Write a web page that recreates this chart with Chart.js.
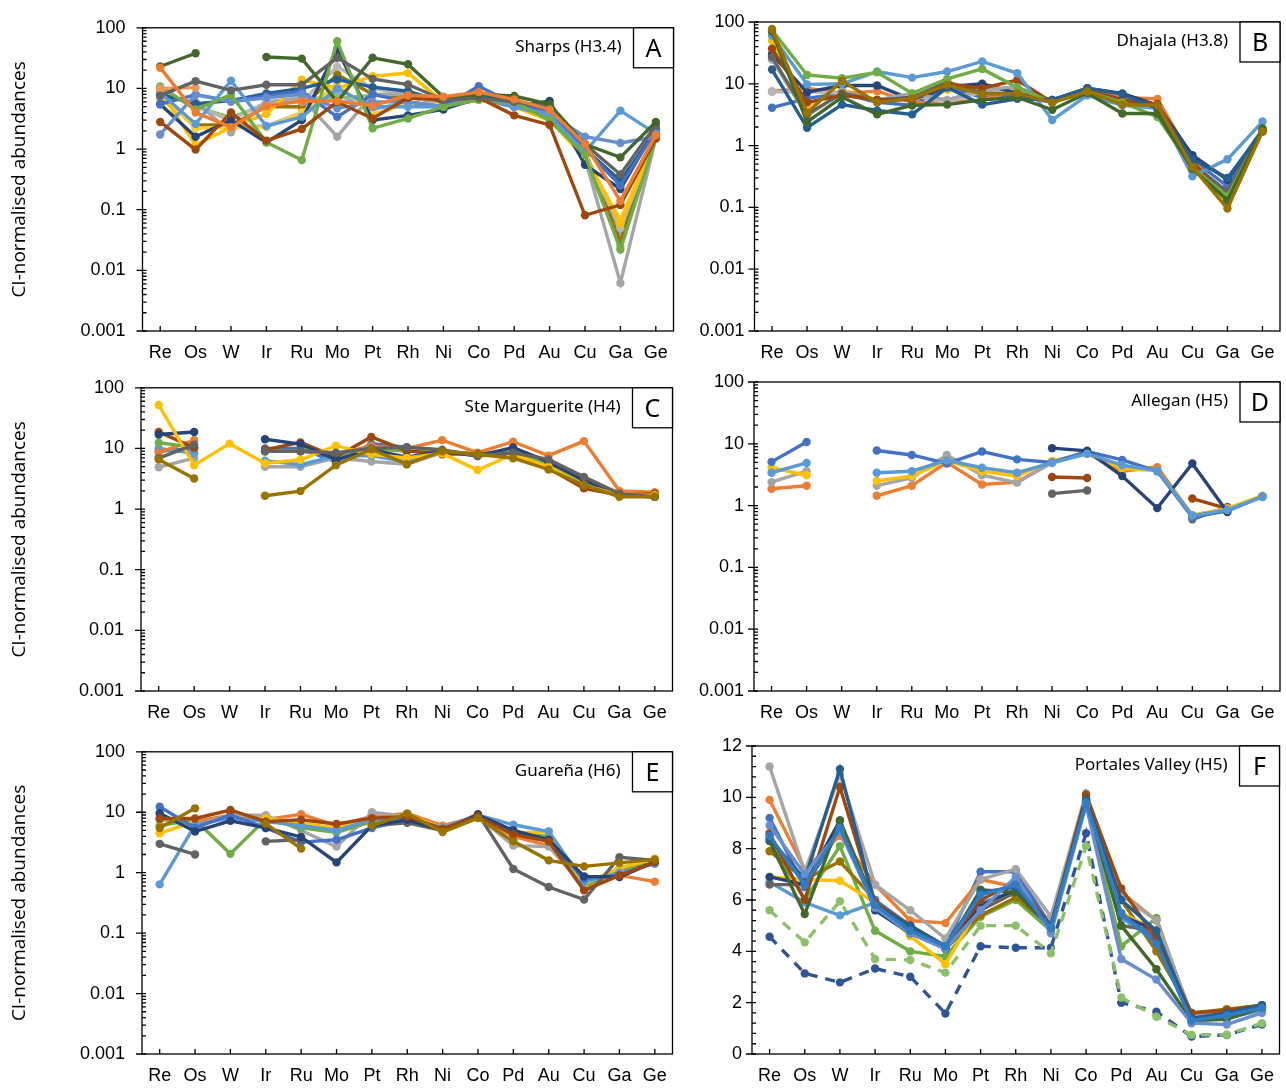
<!DOCTYPE html>
<html>
<head>
<meta charset="utf-8">
<script src="https://cdn.jsdelivr.net/npm/chart.js@4.4.1/dist/chart.umd.min.js"></script>
<style>
  body { margin: 0; background: #fff; }
  #wrap { position: relative; width: 1286px; height: 1088px; overflow: hidden; }
  #wrap canvas { position: absolute; }
</style>
</head>
<body>
<div id="wrap"></div>
<script>
// element order along the x axis
const elements = ['Re', 'Os', 'W', 'Ir', 'Ru', 'Mo', 'Pt', 'Rh', 'Ni', 'Co', 'Pd', 'Au', 'Cu', 'Ga', 'Ge'];
const logTicks = [0.001, 0.01, 0.1, 1, 10, 100];
const linTicks = [0, 2, 4, 6, 8, 10, 12];

// Sharps (H3.4)
const sharps1 = [23, 38, null, 33, 31, 6, 32, 25, 7.2, 8, 7.5, 5.5, 1.2, 0.73, 2.8];
const sharps2 = [7.6, 13.2, 9.3, 11.5, 11.5, 32, 14.4, 11.6, 6.5, 7, 6, 5, 1.2, 0.38, 2.5];
const sharps3 = [10, 10.3, null, null, null, null, null, null, null, null, null, null, null, null, null];
const sharps4 = [2.8, 0.98, 4.0, 1.38, 2.15, 6, 3.2, 7, 6.5, 7, 3.6, 2.5, 0.081, 0.12, 1.5];
const sharps5 = [10.8, 4.5, 7.9, 1.3, 0.66, 60, 2.2, 3.2, 5, 6.5, 6, 3, 0.8, 0.022, 1.5];
const sharps6 = [8.5, 2.6, 13.4, 2.4, 3.4, 10, 5, 5, 5, 7, 5, 3.5, 0.9, 4.3, 1.8];
const sharps7 = [1.74, 7.9, 6, 7, 8, 4.7, 6, 6, 5, 7, 5, 3.8, 1.6, 1.26, 1.6];
const sharps8 = [5.5, 7.9, 6.2, 7.5, 9, 3.4, 8, 6, 5, 10.9, 5.5, 4, 1, 0.25, 2];
const sharps9 = [5.5, 1.6, 3, 1.29, 3, 44, 3, 3.6, 4.5, 7, 5, 6.2, 0.55, 0.22, 2.2];
const sharps10 = [8, 5.6, 6.3, 8.3, 10, 14, 10.5, 9, 6, 8, 6, 4, 1, 0.3, 2];
const sharps11 = [9, 1.17, 2.3, 3.8, 14, 10, 15.9, 17.9, 6, 7, 5, 3, 0.8, 0.06, 1.5];
const sharps12 = [8, 2.2, 2.3, 2.3, 4, 11.7, 3.8, 5.5, 5.5, 6.5, 5, 3, 0.7, 0.07, 1.5];
const sharps13 = [7, 6, 1.9, 6, 7, 1.6, 8, 8, 5, 6.5, 5.5, 5.5, 0.7, 0.0062, 1.5];
const sharps14 = [9, 5, 3, 6, 6, 23, 10, 8, 5, 6.5, 5, 4, 0.8, 0.05, 1.5];
const sharps15 = [7, 2.5, 2.5, 5, 5, 17, 8, 7, 6, 7, 6, 4, 0.9, 0.03, 1.5];
const sharps16 = [9, 5, 3.3, 5.5, 7, 7, 7.7, 8.5, 5.5, 6.5, 6, 3.5, 0.7, 0.025, 1.5];
const sharps17 = [9, 2.3, 2.3, 2.4, 4, 8, 4.5, 6, 5, 6.5, 5, 3.5, 0.9, 0.045, 1.5];
const sharps18 = [22, 4.0, 2.3, 5.1, 6.2, 6.2, 5.2, 7.7, 7.3, 8.7, 6.6, 4.5, 1.2, 0.14, 1.7];

// Dhajala (H3.8)
const dhajala1 = [74, 13.9, 12.3, 15.4, 7, 12, 17.4, 8.7, 5, 7.5, 5, 2.9, 0.45, 0.15, 1.8];
const dhajala2 = [60, 9.8, 10, 15.8, 12.6, 15.8, 23, 14.8, 2.6, 6.5, 4.5, 4, 0.32, 0.6, 2.45];
const dhajala3 = [77, 3.4, 11.2, 5.0, 5.8, 9.6, 6.8, 7, 5, 7.5, 4.6, 4.5, 0.45, 0.096, 1.7];
const dhajala4 = [37, 5, 6.5, 5.5, 5.5, 10, 8.5, 11.5, 5, 8, 5.5, 4.7, 0.55, 0.13, 1.7];
const dhajala5 = [27, 3.2, 7, 5.5, 6, 10.8, 7, 7, 5, 8, 5.5, 4, 0.5, 0.18, 1.8];
const dhajala6 = [24.6, 3, 7.5, 5.5, 7, 5.5, 8, 9, 5, 8, 5.5, 4, 0.5, 0.15, 1.7];
const dhajala7 = [17, 1.95, 4.6, 3.7, 3.2, 8.7, 4.6, 5.7, 5.5, 8.5, 6.8, 4, 0.6, 0.3, 1.7];
const dhajala8 = [30, 7.3, 9.4, 9.4, 5.5, 9, 10, 7, 5.5, 8.5, 7, 4.5, 0.7, 0.28, 1.8];
const dhajala9 = [7.4, 7.5, 7, 5.5, 6.5, 5, 7.5, 8.5, 5, 7.5, 5.5, 4, 0.5, 0.15, 1.7];
const dhajala10 = [7.5, 8.5, 7, 7.6, 5, 5, 5.5, 8, 5, 8, 6, 5.7, 0.6, 0.14, 1.7];
const dhajala11 = [4.1, 5.8, 7, 5, 4.5, 9, 6, 6.5, 5, 8, 6, 4.5, 0.6, 0.22, 1.7];
const dhajala12 = [70, 2.4, 6.1, 3.2, 4.5, 4.6, 5.5, 6, 3.8, 7.1, 3.3, 3.3, 0.42, 0.13, 1.9];
const dhajala13 = [50, 4.5, 8, 5.5, 6, 8, 7, 7, 5, 7.5, 5, 4.2, 0.5, 0.11, 1.7];

// Ste Marguerite (H4)
const steMarg1 = [52, 5.3, 12, 5.7, 6.5, 11.1, 8, 7, 8.3, 4.4, 8, 5, 2.5, 1.7, 1.7];
const steMarg2 = [17, 18.7, null, 14.2, 11.8, 6.5, 9.5, 7.2, 9, 7.5, 10.4, 6, 3, 1.7, 1.6];
const steMarg3 = [18.7, 10.3, null, 9.5, 12.6, 7.2, 15.5, 9.1, 8, 8.2, 7.5, 4.7, 2.2, 1.7, 1.8];
const steMarg4 = [12.4, 10.5, null, 9, 9, 8, 10, 9, 9, 8, 9, 5.5, 2.8, 1.7, 1.6];
const steMarg5 = [8.5, 13.7, null, 9, 9, 8, 11, 10, 13.7, 8.5, 12.9, 7.6, 13.2, 2.0, 1.9];
const steMarg6 = [10, 8.3, null, 6.3, 5.4, 7.5, 7.6, 6, 8.5, 8, 8, 5.5, 2.5, 1.7, 1.6];
const steMarg7 = [4.9, 6.9, null, 5, 5, 7, 6.1, 5.5, 8.5, 8, 8, 5, 2.5, 1.7, 1.6];
const steMarg8 = [6.9, 11.5, null, 9, 9, 8.5, 10, 10.5, 9.5, 7.5, 8.5, 6.6, 3.4, 1.8, 1.6];
const steMarg9 = [6.6, 3.2, null, 1.66, 1.98, 5.3, 9.7, 5.5, 9, 8, 6.9, 4.5, 2.5, 1.6, 1.6];
const steMarg10 = [9, 10, null, 10, 10, 6, 12, 10.5, 9, 8, 9.5, 6, 2.8, 1.7, 1.6];

// Allegan (H5)
const allegan1 = [5.1, 10.7, null, 7.8, 6.6, 4.8, 7.5, 5.6, 5.0, 7.5, 5.5, 3.6, 0.65, 0.82, 1.4];
const allegan2 = [null, null, null, null, null, null, null, null, 8.5, 7.7, 3.0, 0.91, 4.8, 0.79, null];
const allegan3 = [3.4, 4.9, null, 3.4, 3.6, 5.4, 4.1, 3.4, 4.9, 6.9, 4.5, 3.7, 0.69, 0.85, 1.38];
const allegan4 = [4.1, 3.1, null, 2.5, 3.0, 5.4, 3.6, 3.0, 5.3, 7, 4.0, 3.7, 0.7, 0.9, 1.45];
const allegan5 = [2.4, 3.6, null, 2.1, 2.8, 6.6, 3.1, 2.35, 5, 7, 4.2, 3.7, 0.65, 0.85, 1.4];
const allegan6 = [1.87, 2.1, null, 1.44, 2.1, 5, 2.2, 2.4, 5, 7, 3.6, 4.2, 0.7, 0.85, 1.4];
const allegan7 = [null, null, null, null, null, null, null, null, 2.9, 2.8, null, null, 1.3, 0.89, null];
const allegan8 = [null, null, null, null, null, null, null, null, 1.56, 1.76, null, null, 0.6, 0.95, null];

// Guareña (H6)
const guarena1 = [12.3, 5.5, 9, 5.5, 3.2, 3.5, 5.5, 7.5, 5, 9, 5, 3.3, 0.8, 0.9, 1.5];
const guarena2 = [0.64, 6.2, 8, 7, 6, 5, 7.5, 8, 5.5, 9, 6.2, 4.8, 0.7, 1, 1.4];
const guarena3 = [9.6, 4.8, 7.2, 5.5, 3.9, 1.48, 6, 7.5, 5, 9, 5.0, 3.5, 0.87, 0.85, 1.5];
const guarena4 = [7.9, 7.9, 10.9, 7.0, 7.5, 6.4, 8, 8.5, 5.3, 8.5, 4.3, 3.3, 0.51, 0.9, 1.5];
const guarena5 = [4.5, 7, null, 8, 6.5, 5.5, 7.5, 9, 5.5, 8.5, 4.5, 4.8, 0.65, 1.2, 1.7];
const guarena6 = [5.5, 11.6, null, 6.5, 2.5, null, 6.0, 9.5, 4.7, 8, 3.3, 1.6, 1.27, 1.45, 1.66];
const guarena7 = [6.0, 7.5, 2.05, 7.7, 5.5, 4.6, 7, 8.5, 5.5, 8.5, 4.5, 4, 0.6, 1.1, 1.5];
const guarena8 = [3.0, 2.0, null, 3.3, 3.5, null, 6, 6.7, 5, 9.4, 1.15, 0.58, 0.36, 1.8, 1.6];
const guarena9 = [8, 6, 9, 8.9, 5, 2.7, 10, 8.5, 5.5, 8.5, 2.8, 2.7, 0.6, 1.1, 1.5];
const guarena10 = [7.5, 7, 9, 7.5, 9.3, 6, 8.5, 9.5, 6, 8.5, 4, 2.8, 0.6, 0.9, 0.71];

// Portales Valley (H5), linear scale
const portales1 = [11.2, 7.1, 10.9, 6.6, 5.6, 4.5, 6.8, 7.2, 5.35, 10.15, 6.2, 5.2, 1.5, 1.6, 1.9];
const portales2 = [9.9, 7.2, 8.5, 6.6, 5.2, 5.1, 6.8, 6.5, 5, 10, 6.3, 5.2, 1.5, 1.6, 1.8];
const portales3 = [9.2, 6.5, 8.7, 6, 5, 4.2, 7.1, 7.1, 5, 9.9, 5.4, 4.5, 1.4, 1.6, 1.8];
const portales4 = [8.6, 6.0, 10.4, 5.9, 5, 4.2, 6, 6.7, 5, 10.1, 6.45, 4.5, 1.6, 1.7, 1.9];
const portales5 = [8.4, 6.8, 11.1, 5.8, 5, 4.2, 6.3, 6.5, 5, 9.9, 6, 4.8, 1.4, 1.6, 1.9];
const portales6 = [6.9, 6.6, 9.1, 5.6, 4.7, 4.1, 5.8, 6.4, 4.9, 9.8, 5.4, 4.8, 1.4, 1.5, 1.8];
const portales7 = [6.6, 6.6, 8.8, 5.7, 4.8, 4.1, 5.6, 6.3, 4.9, 9.9, 5.0, 4.8, 1.3, 1.5, 1.8];
const portales8 = [6.9, 6.8, 6.75, 5.9, 4.6, 3.5, 5.8, 6.3, 5, 9.9, 5.5, 4.8, 1.4, 1.6, 1.8];
const portales9 = [7.9, 6.8, 7.5, 6, 4.9, 4.1, 5.4, 6.1, 5, 10, 6, 4.0, 1.6, 1.75, 1.9];
const portales10 = [8.3, 6.0, 8.1, 4.8, 4.0, 3.8, 5.35, 6.0, 4.8, 9.8, 4.2, 5.3, 1.4, 1.5, 1.8];
const portales11 = [8.3, 5.45, 9.1, 5.8, 5, 4.1, 6.4, 6.3, 5, 9.9, 5.0, 3.3, 1.3, 1.35, 1.8];
const portales12 = [6.7, 5.9, 5.4, 5.9, 4.8, 4.2, 5.9, 6.3, 5, 9.8, 5.3, 4.4, 1.3, 1.4, 1.7];
const portales13 = [8.9, 7.0, 8.7, 5.7, 4.7, 4.1, 5.6, 6.9, 4.7, 9.7, 3.7, 2.9, 1.2, 1.15, 1.6];
const portales14 = [8.5, 6.6, 8.8, 5.8, 4.8, 4.2, 6.2, 6.6, 4.9, 9.8, 5.5, 4.3, 1.3, 1.5, 1.8];
const portales15 = [5.6, 4.35, 5.95, 3.7, 3.66, 3.17, 5.0, 5.0, 3.92, 8.1, 2.2, 1.45, 0.75, 0.75, 1.2];
const portales16 = [4.57, 3.14, 2.79, 3.33, 3.01, 1.58, 4.2, 4.14, 4.14, 8.6, 2.0, 1.65, 0.68, 0.74, 1.15];

// office palette
const C = {
  blue: '#4472C4', orange: '#ED7D31', gray: '#A5A5A5', gold: '#FFC000', sky: '#5B9BD5', green: '#70AD47',
  navy: '#264478', brown: '#9E480E', dgray: '#636363', dgold: '#997300', dsky: '#255E91', dgreen: '#43682B',
  lblue: '#698ED0', lorange: '#F1975A', lgray: '#B7B7B7', lgold: '#FFCD33', lsky: '#7CAFDD', lgreen: '#8CC168',
  mblue: '#327DC2', dash: '#2F5597'
};

const panels = [
  { letter: 'A', name: 'Sharps (H3.4)', log: true, col: 0, plot: [142.5, 22, 673.5, 331], title: true,
    series: [[sharps18, C.orange], [sharps1, C.dgreen], [sharps2, C.dgray], [sharps3, C.lorange], [sharps4, C.brown],
             [sharps5, C.green], [sharps6, C.sky], [sharps7, C.lblue], [sharps8, C.blue], [sharps9, C.navy],
             [sharps10, C.dsky], [sharps11, C.gold], [sharps12, C.lgold], [sharps13, C.gray], [sharps14, C.lgray],
             [sharps15, C.dgold], [sharps16, C.lgreen], [sharps17, C.lsky]] },
  { letter: 'B', name: 'Dhajala (H3.8)', log: true, col: 1, plot: [754.5, 22, 1280, 331],
    series: [[dhajala3, C.dgold], [dhajala12, C.dgreen], [dhajala7, C.dsky], [dhajala1, C.green], [dhajala2, C.sky],
             [dhajala4, C.brown], [dhajala5, C.dgray], [dhajala6, C.gray], [dhajala8, C.navy], [dhajala9, C.lgray],
             [dhajala10, C.orange], [dhajala11, C.blue], [dhajala13, C.gold]] },
  { letter: 'C', name: 'Ste Marguerite (H4)', log: true, col: 0, plot: [141, 382, 672.5, 690.5], title: true,
    series: [[steMarg9, C.dgold], [steMarg8, C.dgray], [steMarg1, C.gold], [steMarg2, C.navy], [steMarg3, C.brown],
             [steMarg4, C.green], [steMarg5, C.orange], [steMarg6, C.sky], [steMarg7, C.gray], [steMarg10, C.blue]] },
  { letter: 'D', name: 'Allegan (H5)', log: true, col: 1, plot: [754, 382, 1280, 690.5],
    series: [[allegan3, C.sky], [allegan2, C.navy], [allegan1, C.blue], [allegan4, C.gold], [allegan5, C.gray],
             [allegan6, C.orange], [allegan7, C.brown], [allegan8, C.dgray]] },
  { letter: 'E', name: 'Guareña (H6)', log: true, col: 0, plot: [142, 745.7, 672.5, 1053.5], title: true,
    series: [[guarena6, C.dgold], [guarena4, C.brown], [guarena3, C.navy], [guarena8, C.dgray], [guarena1, C.blue],
             [guarena2, C.sky], [guarena5, C.gold], [guarena7, C.green], [guarena9, C.gray], [guarena10, C.orange]] },
  { letter: 'F', name: 'Portales Valley (H5)', log: false, col: 1, plot: [752, 745.7, 1279.5, 1054],
    series: [[portales14, C.mblue], [portales13, C.lblue], [portales5, C.dsky], [portales11, C.dgreen], [portales4, C.brown],
             [portales1, C.gray], [portales2, C.orange], [portales3, C.blue], [portales6, C.navy], [portales7, C.dgray],
             [portales8, C.gold], [portales9, C.dgold], [portales10, C.green], [portales12, C.sky],
             [portales15, C.lgreen, true], [portales16, C.dash, true]] }
];

const cols = [{ x: 0, w: 680 }, { x: 680, w: 606 }];

Chart.defaults.color = '#000';
Chart.defaults.font.family = '"Liberation Sans", Arial, sans-serif';

// frame, tick marks and the sample label box
const decor = {
  id: 'decor',
  afterDraw(chart, args, o) {
    const { ctx, chartArea: a } = chart;
    const x = chart.scales.x, y = chart.scales.y;
    ctx.save();
    ctx.strokeStyle = '#000';
    ctx.lineWidth = 1.3;
    ctx.strokeRect(a.left, a.top, a.right - a.left, a.bottom - a.top);
    ctx.beginPath();
    elements.forEach((e, i) => {
      const px = x.getPixelForValue(i);
      ctx.moveTo(px, a.bottom); ctx.lineTo(px, a.bottom - 5);
    });
    if (o.log) {
      logTicks.forEach(v => {
        const py = y.getPixelForValue(v);
        ctx.moveTo(a.left - 6, py); ctx.lineTo(a.left + 4, py);
      });
      for (let k = -3; k < 2; k++) {
        for (let m = 2; m < 10; m++) {
          const py = y.getPixelForValue(m * Math.pow(10, k));
          ctx.moveTo(a.left, py); ctx.lineTo(a.left + 4, py);
        }
      }
    } else {
      for (let v = 0; v <= 12.001; v += 0.4) {
        const py = y.getPixelForValue(v);
        const major = Math.abs(v / 2 - Math.round(v / 2)) < 0.01;
        ctx.moveTo(major ? a.left - 6 : a.left, py); ctx.lineTo(a.left + 4, py);
      }
    }
    ctx.stroke();

    // label box in the top right corner
    const bx = a.right - 40;
    ctx.fillStyle = '#fff';
    ctx.fillRect(bx, a.top, 40, 40);
    ctx.strokeRect(bx, a.top, 40, 40);
    ctx.fillStyle = '#000';
    ctx.textBaseline = 'middle';
    ctx.textAlign = 'center';
    ctx.font = '25px "Noto Sans"';
    ctx.fillText(o.letter, bx + 20, a.top + 22);
    ctx.textAlign = 'right';
    ctx.font = '17px "Noto Sans"';
    ctx.fillText(o.name, bx - 12, a.top + 19);
    ctx.restore();
  }
};

const wrap = document.getElementById('wrap');

panels.forEach(p => {
  const col = cols[p.col];
  const [pl, pt, pr, pb] = p.plot;
  const top = pt - 22;
  const canvas = document.createElement('canvas');
  canvas.width = col.w;
  canvas.height = Math.round(pb - top + 40);
  canvas.style.left = col.x + 'px';
  canvas.style.top = top + 'px';
  wrap.appendChild(canvas);

  const datasets = p.series.map(([vals, color, dashed]) => ({
    data: vals,
    borderColor: color,
    backgroundColor: color,
    borderWidth: 3.4,
    borderDash: dashed ? [10, 8] : [],
    pointRadius: 4.2,
    pointBorderWidth: 0,
    pointBackgroundColor: color,
    tension: 0,
    spanGaps: false
  }));

  const yScale = p.log ? {
    type: 'logarithmic', min: 0.001, max: 100,
    afterBuildTicks: s => { s.ticks = logTicks.map(v => ({ value: v })); },
    ticks: { callback: v => String(v), padding: p.col === 0 ? 17 : 10, font: { size: 18 } }
  } : {
    type: 'linear', min: 0, max: 12,
    afterBuildTicks: s => { s.ticks = linTicks.map(v => ({ value: v })); },
    ticks: { padding: 10, font: { size: 18 } }
  };
  Object.assign(yScale, {
    grid: { display: false, drawTicks: false },
    border: { display: false },
    afterFit: s => { s.width = pl - col.x; },
    title: {
      display: !!p.title,
      text: 'CI-normalised abundances',
      font: { family: '"Open Sans"', size: 19 },
      padding: { top: 8, bottom: 0 },
      color: '#000'
    }
  });

  new Chart(canvas, {
    type: 'line',
    data: { labels: elements, datasets },
    options: {
      responsive: false,
      animation: false,
      events: [],
      layout: { padding: { top: 22, right: col.x + col.w - pr, bottom: 9, left: 0 } },
      plugins: { legend: { display: false }, tooltip: { enabled: false },
                 decor: { letter: p.letter, name: p.name, log: p.log } },
      scales: {
        x: {
          type: 'category', offset: true,
          grid: { display: false, drawTicks: false },
          border: { display: false },
          ticks: { autoSkip: false, maxRotation: 0, padding: 11, font: { size: 18 } },
          afterFit: s => { s.height = 31; }
        },
        y: yScale
      }
    },
    plugins: [decor]
  });
});
</script>
</body>
</html>
